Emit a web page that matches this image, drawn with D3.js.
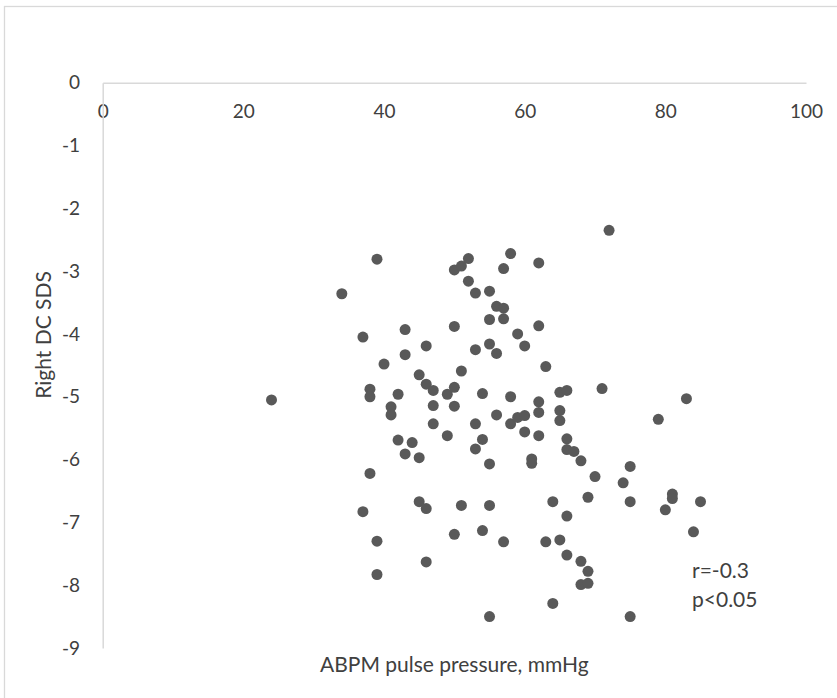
<!DOCTYPE html>
<html>
<head>
<meta charset="utf-8">
<script src="https://cdn.jsdelivr.net/npm/d3@7"></script>
<style>
  html, body { margin: 0; padding: 0; background: #fff; }
  svg { display: block; font-family: Lato, "Open Sans", sans-serif; }
</style>
</head>
<body>
<svg id="chart" width="837" height="698"></svg>
<script>
// ABPM pulse pressure (mmHg)
const pulsePressure = [24,34,37,37,38,38,38,39,39,39,40,41,41,42,42,43,43,43,44,45,45,45,46,46,46,46,47,47,47,49,49,50,50,50,50,50,51,51,51,52,52,53,53,53,53,54,54,54,55,55,55,55,55,55,56,56,56,57,57,57,57,58,58,58,59,59,60,60,60,61,61,62,62,62,62,62,63,63,64,64,65,65,65,65,66,66,66,66,66,67,68,68,68,69,69,69,70,71,72,74,75,75,75,79,80,81,81,83,84,85];
// Right DC SDS
const rightDcSds = [-5.05,-3.36,-4.05,-6.83,-4.88,-5.00,-6.22,-2.81,-7.30,-7.83,-4.48,-5.16,-5.29,-4.96,-5.69,-3.93,-4.33,-5.91,-5.73,-4.65,-5.97,-6.67,-4.19,-4.80,-6.78,-7.63,-4.90,-5.14,-5.43,-4.96,-5.62,-2.98,-3.88,-4.85,-5.15,-7.19,-2.92,-4.59,-6.73,-2.80,-3.16,-3.35,-4.25,-5.43,-5.83,-4.95,-5.68,-7.13,-3.32,-3.77,-4.16,-6.07,-6.73,-8.50,-3.56,-4.31,-5.29,-2.96,-3.59,-3.76,-7.31,-2.72,-5.00,-5.43,-4.00,-5.33,-4.19,-5.30,-5.56,-5.99,-6.06,-2.87,-3.87,-5.08,-5.25,-5.62,-4.52,-7.31,-6.67,-8.29,-4.93,-5.22,-5.38,-7.28,-4.90,-5.67,-5.84,-6.90,-7.52,-5.87,-6.02,-7.62,-7.99,-6.60,-7.78,-7.97,-6.27,-4.87,-2.35,-6.37,-6.11,-6.67,-8.50,-5.36,-6.80,-6.55,-6.62,-5.03,-7.15,-6.67];
const xTicks = [0,20,40,60,80,100];
const yTicks = [0,-1,-2,-3,-4,-5,-6,-7,-8,-9];
const xTitle = "ABPM pulse pressure, mmHg";
const yTitle = "Right DC SDS";
const statLines = ["r=-0.3", "p<0.05"];

const svg = d3.select("#chart");
const W = 837, H = 698;

// outer chart border
svg.append("rect")
  .attr("x", 4.5).attr("y", 6.5)
  .attr("width", W + 10).attr("height", H + 10)
  .attr("fill", "#fff").attr("stroke", "#d9d9d9").attr("stroke-width", 1.3);

const x = d3.scaleLinear().domain([0, 100]).range([102.7, 806]);
const y = d3.scaleLinear().domain([0, -9]).range([82.7, 648]);

const textColor = "#404040";
const fs = 19;
const tfs = 21;
const fmt = d => String(d);

const xAxis = svg.append("g")
  .attr("transform", `translate(0,${y(0)})`)
  .call(d3.axisBottom(x).tickValues(xTicks).tickSize(0).tickPadding(22).tickFormat(fmt));
xAxis.select(".domain").attr("stroke", "#d9d9d9").attr("stroke-width", 1.5);
xAxis.selectAll("text").attr("fill", textColor).style("font-size", fs + "px").style("font-family", "Lato, sans-serif");

const yAxis = svg.append("g")
  .attr("transform", `translate(${x(0)},0)`)
  .call(d3.axisLeft(y).tickValues(yTicks).tickSize(0).tickPadding(22.7).tickFormat(fmt));
yAxis.select(".domain").attr("stroke", "#d9d9d9").attr("stroke-width", 1.5);
yAxis.selectAll("text").attr("fill", textColor).style("font-size", fs + "px").style("font-family", "Lato, sans-serif");

// points
const pts = pulsePressure.map((v, i) => ({ x: v, y: rightDcSds[i] }));
svg.append("g").selectAll("circle").data(pts).join("circle")
  .attr("cx", d => x(d.x))
  .attr("cy", d => y(d.y))
  .attr("r", 5.5)
  .attr("fill", "#595959");

// axis titles
svg.append("text")
  .attr("x", (x(0) + x(100)) / 2).attr("y", 672)
  .attr("text-anchor", "middle")
  .attr("fill", textColor)
  .style("font-size", tfs + "px")
  .text(xTitle);

svg.append("text")
  .attr("transform", `translate(51,${335}) rotate(-90)`)
  .attr("text-anchor", "middle")
  .attr("fill", textColor)
  .style("font-size", tfs + "px")
  .text(yTitle);

// stats annotation
const ann = svg.append("text").attr("fill", textColor).style("font-size", tfs + "px");
statLines.forEach((s, i) => {
  ann.append("tspan").attr("x", 692).attr("y", 578 + i * 28.5).text(s);
});
</script>
</body>
</html>
